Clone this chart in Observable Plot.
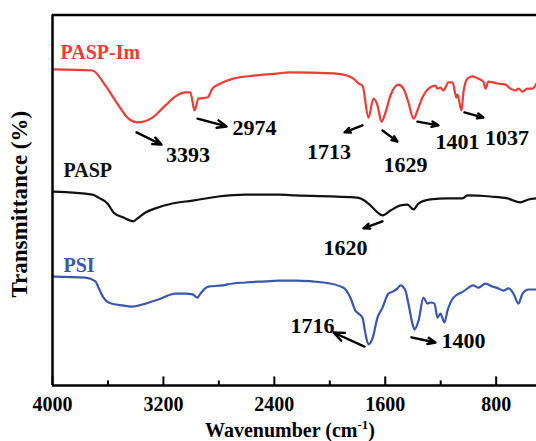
<!DOCTYPE html>
<html><head><meta charset="utf-8">
<script src="https://cdn.jsdelivr.net/npm/d3@7"></script>
<script src="https://cdn.jsdelivr.net/npm/@observablehq/plot@0.6"></script>
<style>body{margin:0;background:#fff;}</style>
</head><body><div id="chart"></div>
<script>
// ---- data (wavenumber in cm^-1, transmittance in arbitrary offset %) ----
const paspImWn = [3993,3712,3618,3524,3452,3387,3279,3185,3113,3041,3005,2976,2947,2882,2846,2788,2695,2550,2370,2298,1973,1872,1829,1793,1764,1721,1685,1656,1627,1598,1562,1505,1469,1433,1396,1368,1332,1288,1238,1223,1202,1180,1144,1115,1086,1079,1050,1036,1007,971,928,892,877,856,791,733,697,661,639,610,574,538,509];
const paspImT  = [85.3,85.0,80.9,75.6,72.0,71.0,72.3,75.6,78.0,79.1,79.1,74.2,77.4,77.7,80.1,81.5,82.8,83.6,84.2,84.5,84.2,83.6,82.8,81.5,80.9,72.3,77.4,75.6,71.2,73.7,78.3,81.2,80.1,76.4,72.0,74.2,77.7,80.1,80.9,80.1,80.4,79.6,81.8,81.8,77.7,78.5,74.2,79.1,82.8,83.4,82.8,82.0,80.1,82.0,81.5,81.2,80.1,79.6,80.1,79.3,80.1,80.1,81.5];

const paspWn = [3993,3712,3668,3603,3560,3488,3416,3387,3329,3257,3135,2990,2803,2608,2370,2247,1800,1721,1656,1620,1562,1490,1440,1396,1360,1274,1151,1043,1007,841,719,625,567,509];
const paspT  = [52.3,51.5,50.7,49.1,46.7,45.3,44.3,45.1,46.7,47.8,49.1,49.9,51.0,51.5,51.5,51.3,50.7,49.1,46.7,45.9,47.2,48.6,48.8,47.5,49.1,50.2,50.5,50.5,51.3,51.0,50.5,49.4,50.2,50.5];

const psiWn = [3993,3762,3690,3668,3632,3596,3495,3423,3329,3236,3113,3041,2990,2954,2933,2875,2774,2738,2608,2464,2370,2247,2045,1901,1851,1815,1793,1764,1743,1721,1692,1656,1620,1577,1541,1512,1490,1454,1433,1404,1389,1360,1324,1295,1274,1245,1223,1202,1173,1151,1108,1036,964,928,877,827,783,747,711,675,639,610,567,509];
const psiT  = [29.4,29.1,28.1,26.4,23.7,22.4,21.6,21.3,22.1,23.2,24.8,24.8,24.6,23.7,24.8,26.7,27.0,27.3,27.8,28.1,28.3,28.3,27.8,26.4,23.7,20.2,19.4,18.3,14.0,11.1,12.7,18.3,21.0,24.8,25.4,26.2,27.0,25.6,22.1,16.7,15.1,17.5,23.7,22.1,22.4,22.1,18.3,19.4,17.0,20.2,23.7,25.4,27.0,26.4,27.5,26.7,26.2,25.6,26.2,24.8,22.1,24.8,25.9,25.9];

const seriesNames  = ["PASP-Im", "PASP", "PSI"];
const seriesColors = ["#ef3b36", "#111111", "#3b56ad"];
const seriesLabelWn = [3942, 3921, 3921];
const seriesLabelT  = [89.9, 58.0, 32.4];

const peakText  = ["3393","2974","1713","1629","1401","1037","1620","1716","1400"];
const peakTextWn = [3023, 2543, 2006, 1454, 1079, 722, 1887, 2125, 1036];
const peakTextT  = [62.1, 69.6, 62.9, 59.4, 65.6, 66.9, 37.0, 16.2, 11.9];
const arrowFromWn = [3394, 2954, 1764, 1620, 1368, 1029, 1620, 1750, 1411];
const arrowFromT  = [68.3, 72.0, 70.2, 68.8, 71.2, 73.7, 44.3, 10.5, 13.0];
const arrowToWn   = [3214, 2745, 1894, 1512, 1216, 892, 1757, 1973, 1238];
const arrowToT    = [65.0, 69.9, 68.3, 65.8, 70.2, 72.3, 42.4, 14.3, 11.6];

const majorTicks = [4000, 3200, 2400, 1600, 800];
const minorTicks = [3600, 2800, 2000, 1200];

// ---- build tables ----
const spectra = [
  ...paspImWn.map((w, i) => ({series: "PASP-Im", wn: w, t: paspImT[i]})),
  ...paspWn.map((w, i) => ({series: "PASP", wn: w, t: paspT[i]})),
  ...psiWn.map((w, i) => ({series: "PSI", wn: w, t: psiT[i]}))
];
const seriesLabels = seriesNames.map((n, i) => ({name: n, wn: seriesLabelWn[i], t: seriesLabelT[i]}));
const peaks = peakText.map((s, i) => ({s, wn: peakTextWn[i], t: peakTextT[i],
  x1: arrowFromWn[i], y1: arrowFromT[i], x2: arrowToWn[i], y2: arrowToT[i]}));

const FONT = "'Liberation Serif', 'Times New Roman', serif";
const W = 536, H = 441, ML = 52, MT = 14.4, MB = 56;

const chart = Plot.plot({
  width: W, height: H,
  marginLeft: ML, marginRight: 0, marginTop: MT, marginBottom: MB,
  style: {fontFamily: FONT, background: "#fff", overflow: "visible"},
  x: {domain: [4000, 509], axis: null},
  y: {domain: [0, 100], axis: null},
  color: {domain: seriesNames, range: seriesColors},
  marks: [
    Plot.line(spectra, {x: "wn", y: "t", z: "series", stroke: "series", strokeWidth: 2.2, curve: "monotone-x"}),
    // frame (left, top, bottom)
    Plot.ruleX([4000], {stroke: "#000", strokeWidth: 2.5}),
    Plot.ruleY([0, 100], {stroke: "#000", strokeWidth: 2.5}),
    // inward ticks
    Plot.ruleX(majorTicks, {stroke: "#000", strokeWidth: 2, insetTop: 362}),
    Plot.ruleX(minorTicks, {stroke: "#000", strokeWidth: 2, insetTop: 366}),
    Plot.text(majorTicks, {x: d => d, frameAnchor: "bottom", dy: 19.5, text: d => String(d),
      fontSize: 20, fontWeight: "bold", fill: "#000", lineAnchor: "middle"}),
    // y label
    Plot.text(["Transmittance (%)"], {frameAnchor: "left", text: d => d, rotate: -90, dx: -33, dy: 4,
      fontSize: 23, fontWeight: "bold", fill: "#000", textAnchor: "middle", lineAnchor: "middle"}),
    // series labels
    Plot.text(seriesLabels, {x: "wn", y: "t", text: "name", fill: "name", textAnchor: "start",
      lineAnchor: "middle", fontSize: 20, fontWeight: "bold"}),
    // peak annotations
    Plot.arrow(peaks, {x1: "x1", y1: "y1", x2: "x2", y2: "y2", stroke: "#000", strokeWidth: 2.4,
      headLength: 8, headAngle: 45}),
    Plot.text(peaks, {x: "wn", y: "t", text: "s", fontSize: 22, fontWeight: "bold", fill: "#000",
      lineAnchor: "middle"})
  ]
});

document.getElementById("chart").appendChild(chart);

// x axis title with superscript
const svg = d3.select(chart.tagName.toLowerCase() === "svg" ? chart : chart.querySelector("svg"));
const title = svg.append("text")
  .attr("x", (ML + W) / 2 - 4).attr("y", 437)
  .attr("text-anchor", "middle")
  .attr("font-family", FONT).attr("font-size", 20).attr("font-weight", "bold").attr("fill", "#000");
title.append("tspan").text("Wavenumber (cm");
title.append("tspan").attr("font-size", 13).attr("dy", -8).text("-1");
title.append("tspan").attr("dy", 8).text(")");
</script>
</body></html>
